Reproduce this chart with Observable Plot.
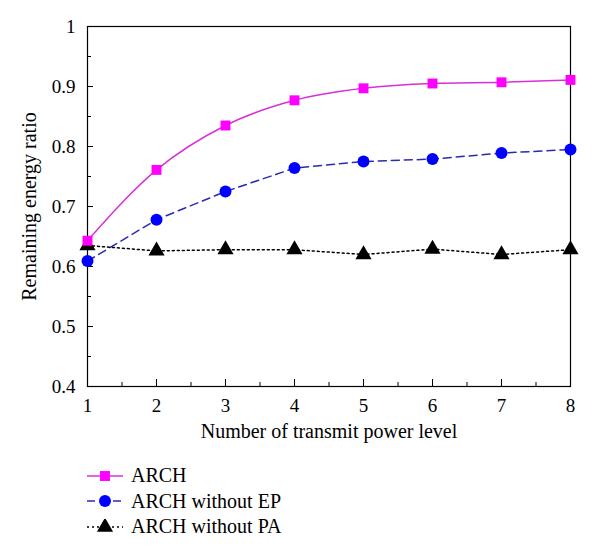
<!DOCTYPE html>
<html>
<head>
<meta charset="utf-8">
<script src="https://cdn.jsdelivr.net/npm/d3@7"></script>
<script src="https://cdn.jsdelivr.net/npm/@observablehq/plot@0.6"></script>
<style>
  body { margin: 0; background: #fff; font-family: "Liberation Serif", serif; }
  #chart svg text { font-family: "Liberation Serif", serif !important; font-size: 19px !important; }
  #chart svg text.title { font-size: 20px !important; }
  #legend { margin-left: 87px; margin-top: 8px; font-size: 20px; color: #000; font-family: "Liberation Serif", serif; }
  .row { display: flex; align-items: center; height: 25.5px; }
  .row svg { margin-right: 8px; }
</style>
</head>
<body>
<div id="chart"></div>
<div id="legend"></div>
<script>
const levels = [1, 2, 3, 4, 5, 6, 7, 8];
const arch = [0.643, 0.761, 0.835, 0.877, 0.897, 0.905, 0.907, 0.911];
const archNoEP = [0.609, 0.678, 0.725, 0.764, 0.775, 0.779, 0.789, 0.795];
const archNoPA = [0.635, 0.626, 0.628, 0.628, 0.620, 0.629, 0.620, 0.628];
const seriesNames = ["ARCH", "ARCH without EP", "ARCH without PA"];
const xTicks = [1, 2, 3, 4, 5, 6, 7, 8];
const xMinor = [1.5, 2.5, 3.5, 4.5, 5.5, 6.5, 7.5];
const yTicks = [0.4, 0.5, 0.6, 0.7, 0.8, 0.9, 1];
const yMinor = [0.45, 0.55, 0.65, 0.75, 0.85, 0.95];

const styles = [
  {line: "#d830d8", fill: "#ff00ff", symbol: "square", r: 5.6, dash: null, curve: "monotone-x"},
  {line: "#2a2ab0", fill: "#0000ff", symbol: "circle", r: 6, dash: "8,5", curve: "linear"},
  {line: "#000000", fill: "#000000", symbol: "triangle", r: 6, dash: "2,3", curve: "linear"}
];
const values = [arch, archNoEP, archNoPA];
const data = seriesNames.map((name, i) => levels.map((x, j) => ({x, y: values[i][j], name})));
const fmt = d => String(+d.toFixed(2));

const marks = [
  Plot.frame({stroke: "#000", strokeWidth: 1.2}),
  Plot.axisX(xTicks, {tickSize: -7, tickPadding: 19, tickFormat: fmt, label: null}),
  Plot.axisX(xMinor, {tickSize: -4, text: null, label: null}),
  Plot.axisY(yTicks, {tickSize: -6, tickPadding: 18, tickFormat: fmt, label: null}),
  Plot.axisY(yMinor, {tickSize: -4, text: null, label: null}),
];
data.forEach((d, i) => {
  const s = styles[i];
  marks.push(Plot.line(d, {x: "x", y: "y", stroke: s.line, strokeWidth: 1.5, strokeDasharray: s.dash, curve: s.curve}));
});
data.slice().reverse().forEach((d, ri) => {
  const s = styles[2 - ri];
  marks.push(Plot.dot(d, {x: "x", y: "y", symbol: () => s.symbol, fill: s.fill, stroke: "none", r: s.r}));
});
marks.push(Plot.text(["Remaining energy ratio"], {frameAnchor: "left", dx: -58, rotate: -90, textAnchor: "middle", lineAnchor: "middle", text: d => d, className: "title"}));
marks.push(Plot.text(["Number of transmit power level"], {frameAnchor: "bottom", dy: 51, text: d => d, className: "title"}));

const chart = Plot.plot({
  width: 600,
  height: 455,
  marginLeft: 87,
  marginRight: 30,
  marginTop: 26,
  marginBottom: 69,
  style: {fontFamily: "Liberation Serif", fontSize: "19px", color: "#000", background: "#fff"},
  x: {domain: [1, 8], axis: null},
  y: {domain: [0.4, 1], axis: null},
  symbol: {type: "identity"},
  marks
});
chart.querySelectorAll("g[aria-label='text'] text").forEach(t => t.classList.add("title"));
document.getElementById("chart").appendChild(chart);

const legend = document.getElementById("legend");
seriesNames.forEach((name, i) => {
  const s = styles[i];
  const row = document.createElement("div");
  row.className = "row";
  const sw = d3.create("svg").attr("width", 36).attr("height", 16);
  sw.append("line").attr("x1", 0).attr("x2", 36).attr("y1", 8).attr("y2", 8)
    .attr("stroke", s.line).attr("stroke-width", 1.5).attr("stroke-dasharray", s.dash);
  const sym = {square: d3.symbolSquare, circle: d3.symbolCircle, triangle: d3.symbolTriangle}[s.symbol];
  sw.append("path").attr("d", d3.symbol(sym, Math.PI * s.r * s.r)()).attr("transform", "translate(18,8)").attr("fill", s.fill);
  row.appendChild(sw.node());
  const t = document.createElement("span");
  t.textContent = name;
  row.appendChild(t);
  legend.appendChild(row);
});
</script>
</body>
</html>
